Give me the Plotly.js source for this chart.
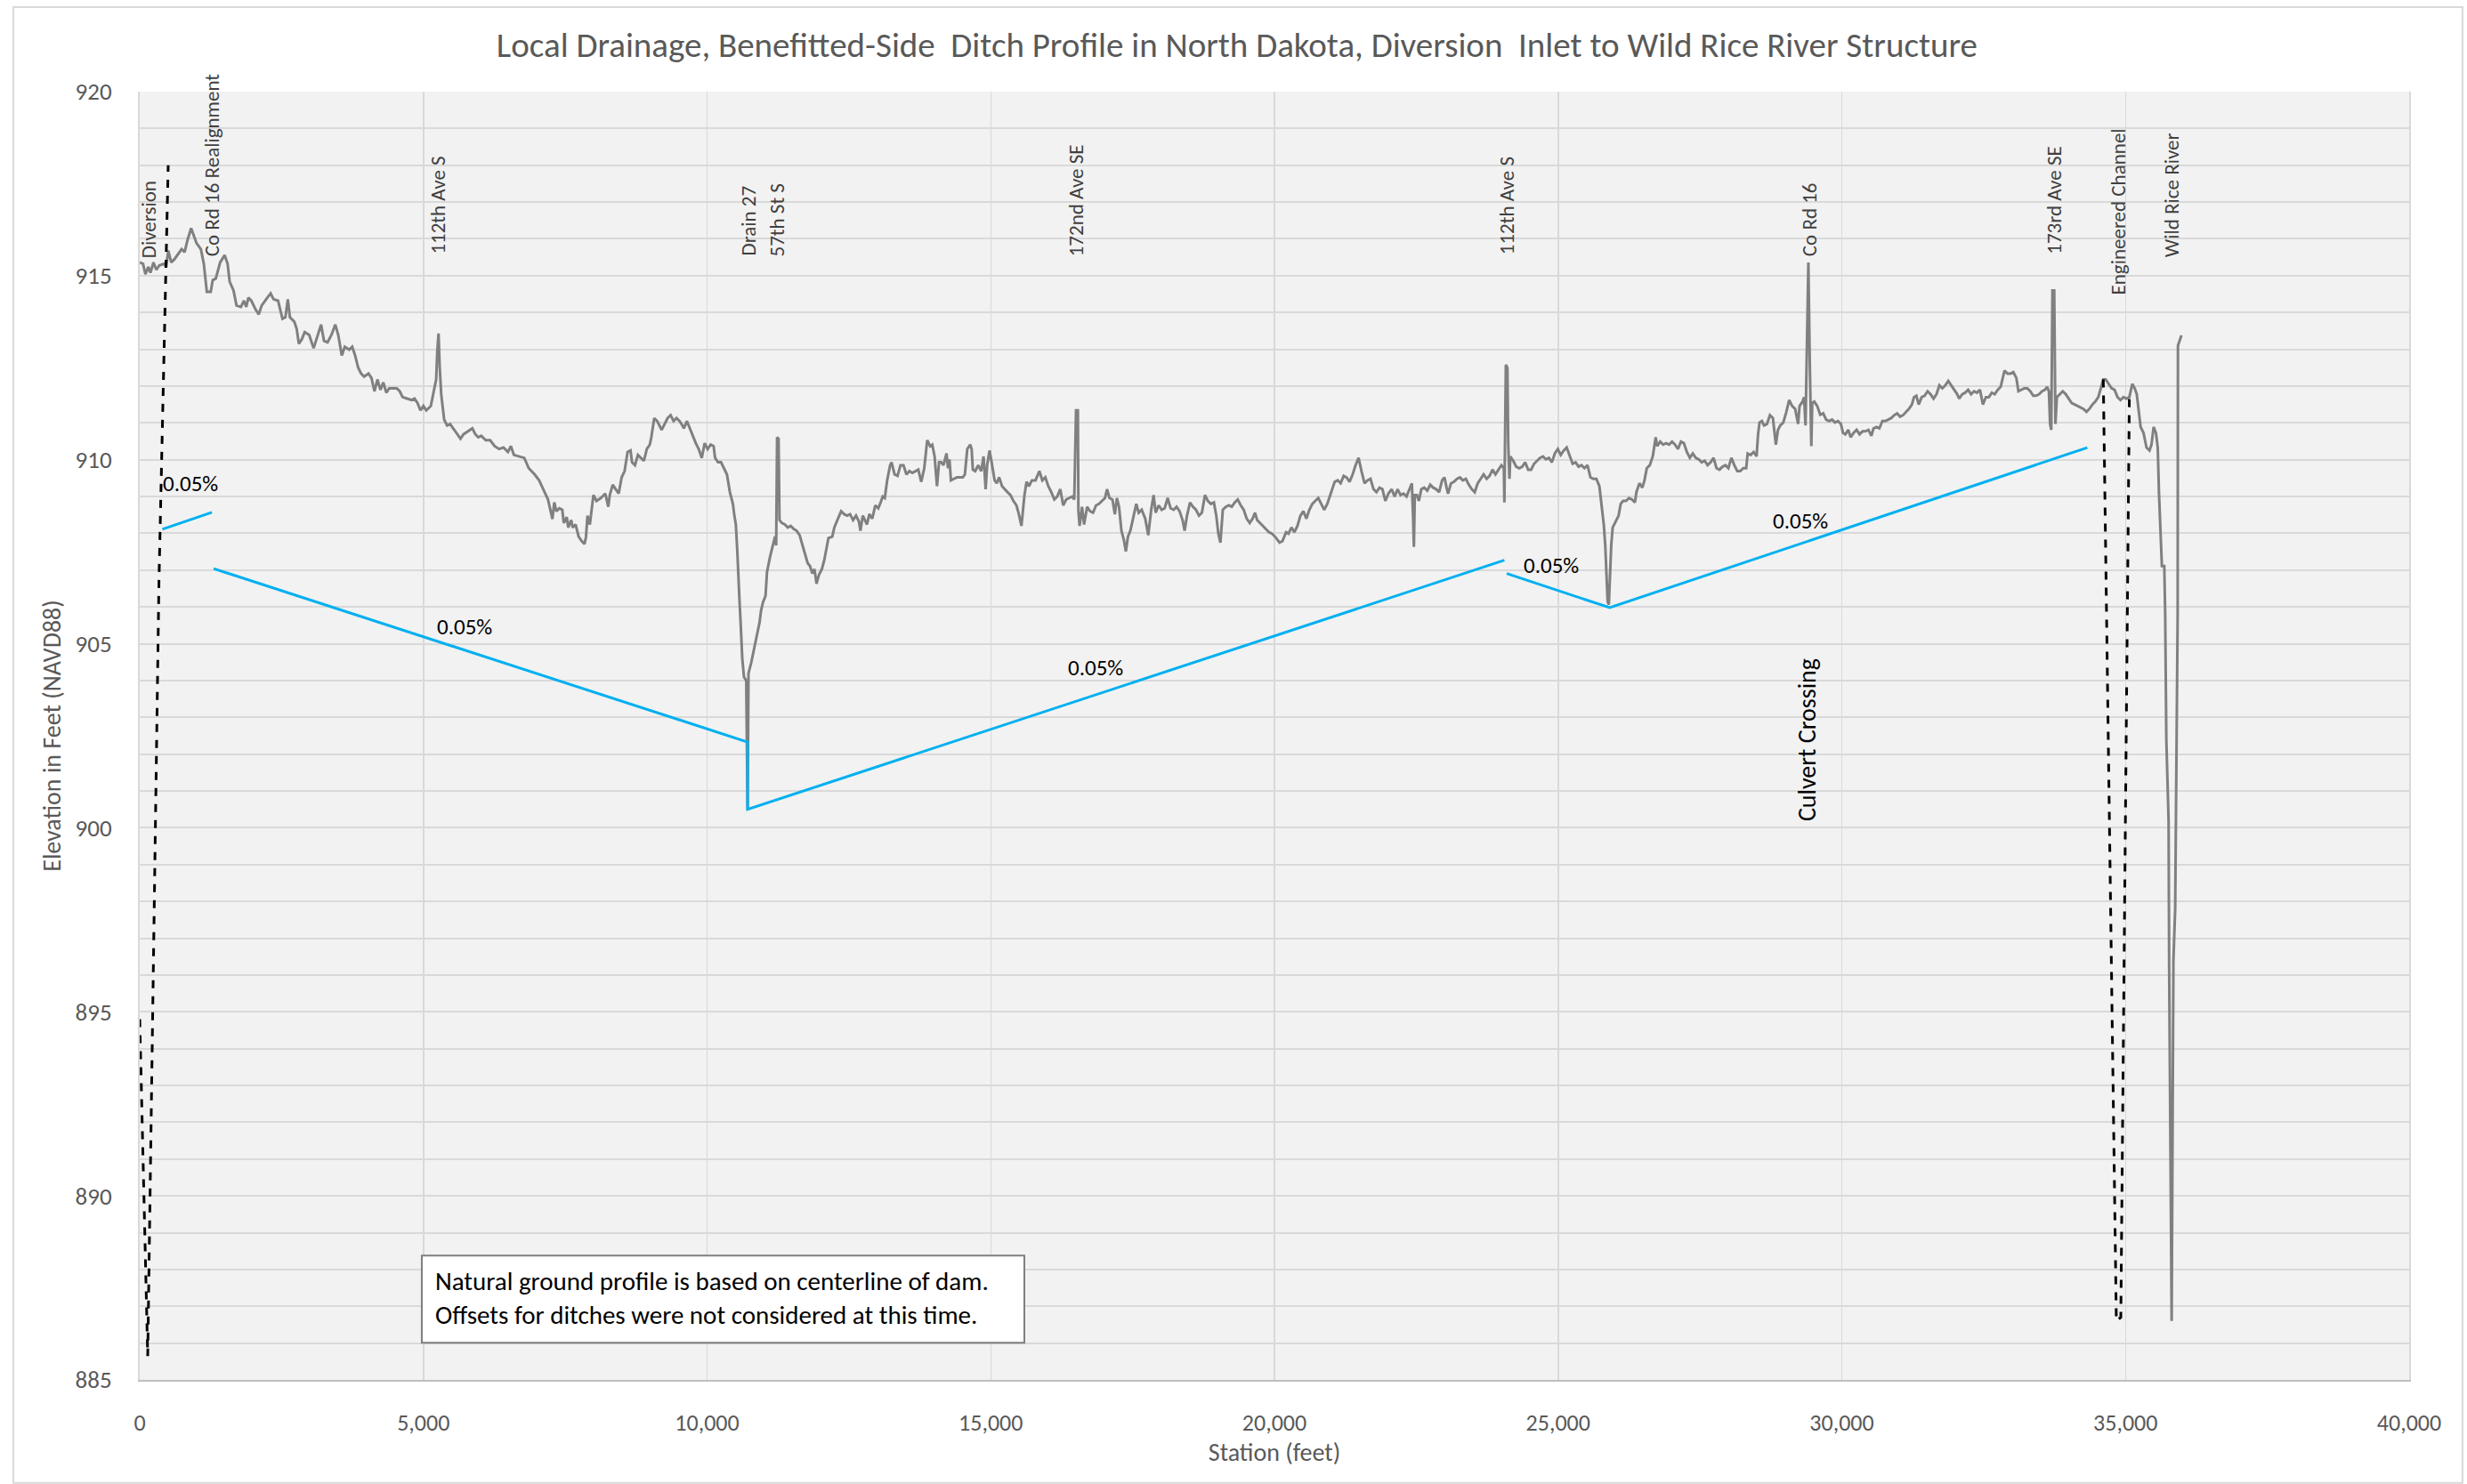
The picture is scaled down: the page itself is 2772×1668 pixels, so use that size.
<!DOCTYPE html>
<html>
<head>
<meta charset="utf-8">
<script src="https://cdn.plot.ly/plotly-3.0.1.min.js"></script>
<style>html,body{margin:0;padding:0;background:#fff;}#chart{width:2772px;height:1668px;}</style>
</head>
<body>
<div id="chart"></div>
<script>
// ---- Data ----
const chartTitle = 'Local Drainage, Benefitted-Side  Ditch Profile in North Dakota, Diversion  Inlet to Wild Rice River Structure';
const xAxisTitle = 'Station (feet)';
const yAxisTitle = 'Elevation in Feet (NAVD88)';

// Natural ground profile [station ft, elevation ft]
const groundProfile = [
[0,915.36],[59,915.32],[100,915.04],[153,915.24],[189,915.08],[242,915.36],[294,915.16],[346,915.28],[425,915.32],[466,915.24],[503,915.68],[555,915.36],[608,915.44],[660,915.56],[738,915.72],[791,915.64],[843,915.97],[906,916.29],[948,916.09],[1000,915.89],[1078,915.72],[1130,915.32],[1183,914.56],[1251,914.56],[1287,914.88],[1340,914.92],[1418,915.36],[1497,915.56],[1549,915.32],[1585,914.84],[1653,914.60],[1706,914.19],[1784,914.15],[1836,914.32],[1878,914.15],[1915,914.40],[1967,914.32],[2046,914.07],[2098,913.95],[2150,914.19],[2229,914.36],[2307,914.52],[2359,914.36],[2438,914.32],[2516,913.83],[2568,913.87],[2610,914.36],[2647,913.87],[2725,913.75],[2767,913.55],[2804,913.15],[2856,913.27],[2908,913.47],[2987,913.39],[3065,913.03],[3118,913.27],[3196,913.67],[3248,913.23],[3311,913.19],[3379,913.39],[3447,913.67],[3499,913.39],[3536,913.07],[3562,912.83],[3614,913.07],[3693,912.99],[3745,913.07],[3797,912.83],[3850,912.50],[3902,912.34],[3954,912.26],[4033,912.34],[4085,912.22],[4137,911.86],[4190,912.18],[4242,911.90],[4294,912.10],[4346,911.82],[4399,911.94],[4477,911.94],[4530,911.94],[4582,911.86],[4634,911.70],[4713,911.66],[4791,911.62],[4843,911.66],[4896,911.54],[4948,911.34],[5000,911.46],[5052,911.34],[5131,911.46],[5193,911.94],[5225,912.18],[5246,912.99],[5267,913.43],[5288,912.50],[5314,911.78],[5366,911.09],[5418,910.93],[5471,910.97],[5549,910.81],[5654,910.57],[5706,910.69],[5784,910.77],[5863,910.85],[5915,910.69],[5967,910.61],[6020,910.65],[6098,910.53],[6176,910.53],[6255,910.37],[6333,910.29],[6412,910.33],[6490,910.21],[6542,910.37],[6595,910.13],[6699,910.09],[6778,910.05],[6856,909.77],[6961,909.60],[7039,909.44],[7118,909.16],[7196,908.92],[7274,908.39],
[7307,908.84],[7344,908.60],[7396,908.68],[7448,908.64],[7474,908.28],[7527,908.44],[7553,908.16],[7605,908.36],[7631,908.16],[7683,908.24],[7736,907.91],[7788,907.79],[7840,907.71],[7866,907.91],[7892,908.48],[7934,908.24],[7971,908.80],[7997,909.04],[8050,908.88],[8128,908.96],[8206,909.08],[8259,908.72],[8285,909.04],[8337,909.32],[8389,909.20],[8442,909.08],[8494,909.52],[8546,909.69],[8599,910.21],[8651,910.25],[8677,909.93],[8729,909.85],[8781,910.13],[8834,910.05],[8886,909.97],[8938,910.29],[8991,910.41],[9017,910.61],[9069,911.13],[9121,911.05],[9200,910.81],[9252,910.97],[9304,911.13],[9357,911.21],[9409,911.05],[9461,911.13],[9514,911.05],[9566,910.93],[9592,910.85],[9644,911.05],[9697,910.85],[9749,910.61],[9801,910.45],[9853,910.29],[9906,910.05],[9958,910.45],[10010,910.29],[10063,910.41],[10115,910.37],[10141,910.05],[10193,909.93],[10246,909.93],[10298,909.77],[10350,909.60],[10402,909.12],[10455,908.80],[10481,908.48],[10507,908.24],[10533,907.51],[10544,907.03],[10570,906.22],[10591,905.58],[10620,904.60],[10650,904.10],[10690,904.00],[10714,900.50],[10730,904.20],[10780,904.50],[10850,905.00],[10925,905.58],
[10951,905.90],[10988,906.14],[11030,906.30],[11056,906.95],[11108,907.35],[11145,907.59],[11176,907.83],[11197,907.91],[11218,907.67],[11234,910.61],[11260,910.57],[11276,908.36],[11318,908.28],[11370,908.24],[11422,908.16],[11474,908.20],[11527,908.12],[11579,908.07],[11631,907.95],[11684,907.67],[11736,907.43],[11773,907.19],[11814,907.11],[11856,906.91],[11893,907.03],[11929,906.63],[11971,906.87],[12023,907.03],[12065,907.27],[12102,907.59],[12139,907.87],[12207,907.91],[12243,908.16],[12285,908.32],[12327,908.48],[12363,908.60],[12416,908.52],[12468,908.48],[12520,908.52],[12573,908.36],[12625,908.48],[12677,908.32],[12703,908.07],[12745,908.48],[12782,908.36],[12818,908.24],[12860,908.52],[12912,908.40],[12965,908.76],[13017,908.68],[13059,908.84],[13095,909.00],[13132,908.96],[13174,909.44],[13226,909.85],[13252,909.93],[13305,909.60],[13357,909.56],[13409,909.85],[13462,909.85],[13514,909.60],[13566,909.69],[13618,909.64],[13671,909.69],[13723,909.73],[13775,909.40],[13828,909.77],[13880,910.53],[13932,910.37],[13969,910.41],[14010,910.09],[14052,909.28],[14089,909.93],[14126,909.93],[14167,909.85],[14220,910.17],[14246,909.77],[14272,910.01],[14298,909.44],[14350,909.48],[14403,909.52],[14455,909.52],[14507,909.52],[14544,909.60],[14586,910.29],[14638,910.41],
[14663,910.29],[14684,909.73],[14726,909.69],[14779,909.85],[14831,909.69],[14873,910.09],[14910,909.20],[14936,909.85],[14979,910.25],[15015,909.93],[15068,909.44],[15105,909.36],[15147,909.52],[15199,909.28],[15241,909.20],[15294,909.12],[15347,909.04],[15399,908.88],[15452,908.76],[15489,908.56],[15541,908.20],[15594,909.04],[15631,909.40],[15673,909.28],[15725,909.44],[15788,909.44],[15857,909.69],[15909,909.44],[15962,909.52],[16014,909.28],[16067,909.12],[16120,908.92],[16172,909.00],[16225,909.20],[16277,908.76],[16330,908.92],[16382,908.96],[16435,909.00],[16472,908.92],[16503,911.34],[16535,911.34],[16545,908.60],[16566,908.20],[16609,908.72],[16645,908.24],[16698,908.72],[16750,908.60],[16803,908.56],[16856,908.76],[16908,908.80],[16961,908.88],[17013,908.96],[17050,909.20],[17092,908.96],[17145,908.92],[17187,908.52],[17224,908.96],[17261,908.72],[17303,908.07],[17345,907.83],[17381,907.51],[17418,907.91],[17460,908.07],[17513,908.48],[17565,908.80],[17608,908.56],[17660,908.64],[17723,908.40],[17776,907.95],[17828,908.64],[17870,909.04],[17907,908.56],[17960,908.76],[18013,908.64],[18065,908.68],[18118,908.96],[18170,908.68],[18223,908.64],[18275,908.72],[18328,908.60],[18381,908.36],[18417,908.07],[18459,908.48],[18512,908.84],[18564,908.72],[18617,908.64],[18670,908.48],[18722,908.56],[18775,909.04],[18827,908.88],[18880,908.80],[18933,908.84],[18975,908.48],[19012,907.99],[19048,907.75],[19090,908.64],[19143,908.72],[19196,908.76],[19248,908.72],[19301,908.84],[19353,908.92],[19406,908.76],[19458,908.64],[19511,908.40],[19564,908.28],[19616,908.40],[19658,908.56],[19695,908.36],[19748,908.28],[19800,908.20],[19853,908.12],[19905,908.03],[19958,907.99],[20011,907.91],[20090,907.75],[20142,907.79],[20205,908.03],[20247,907.99],[20300,908.16],[20352,908.03],[20405,908.20],[20458,908.48],[20510,908.60],[20563,908.40],[20615,908.64],[20668,908.80],[20720,908.88],[20773,908.96],[20825,908.80],[20878,908.64],[20931,908.80],[20983,909.04],[21025,909.28],[21062,909.40],[21115,909.44],[21167,909.36],[21220,909.56],[21272,909.52],[21325,909.40],[21378,909.60],[21430,909.85],[21483,910.05],[21535,909.69],[21588,909.36],[21640,909.44],[21693,909.48],[21746,909.20],[21798,909.12],[21851,909.24],[21903,909.20],[21956,908.88],[22008,909.08],
[22066,909.20],[22119,909.00],[22171,909.20],[22223,909.04],[22275,909.08],[22328,909.00],[22380,909.20],[22422,909.36],[22443,908.48],[22458,907.63],[22474,909.04],[22511,909.04],[22547,908.88],[22589,909.20],[22641,909.24],[22694,909.16],[22746,909.32],[22798,909.24],[22850,909.20],[22903,909.12],[22955,909.44],[22997,909.52],[23034,909.24],[23060,909.08],[23112,909.36],[23164,909.40],[23217,909.48],[23269,909.52],[23321,909.44],[23374,909.48],[23426,909.32],[23478,909.20],[23530,909.12],[23583,909.36],[23635,909.48],[23687,909.60],[23740,909.48],[23792,909.56],[23844,909.73],[23896,909.60],[23949,909.73],[24001,909.85],[24043,909.77],[24053,908.84],[24079,912.58],[24106,912.50],[24121,910.41],[24142,909.48],[24158,910.09],[24210,909.97],[24262,909.81],[24315,909.77],[24367,909.81],[24419,909.93],[24472,909.73],[24524,909.73],[24576,909.89],[24629,909.97],[24681,910.05],[24733,910.09],[24785,910.01],[24838,910.05],[24890,909.93],[24942,910.17],[24995,910.29],[25047,910.13],[25099,910.25],[25151,910.33],[25204,910.09],[25256,909.89],[25308,909.93],[25361,909.81],[25413,909.85],[25465,909.77],[25517,909.85],[25570,909.52],[25622,909.48],[25674,909.48],[25727,909.28],[25768,908.80],[25805,908.24],[25831,907.67],[25857,906.87],[25873,906.14],[25894,906.06],[25910,906.87],[25936,907.67],[25962,908.16],[26014,908.32],[26066,908.48],[26103,908.80],[26145,908.88],[26197,908.88],[26250,908.96],[26302,908.92],[26354,908.84],[26380,909.12],[26433,909.36],[26485,909.24],[26522,909.44],[26563,909.77],[26616,909.85],[26668,910.09],[26694,910.41],[26720,910.61],[26746,910.37],[26799,910.49],[26851,910.41],[26903,910.45],[26956,910.41],[27008,910.49],[27060,910.41],[27112,910.29],[27165,910.49],[27217,910.45],[27269,910.21],[27322,910.05],[27374,910.17],[27426,910.05],[27478,910.01],[27531,909.93],[27583,909.97],[27635,909.85],[27688,909.93],[27740,910.05],[27792,909.77],[27844,909.73],[27897,909.81],[27949,909.85],[28001,909.77],[28054,910.05],[28106,909.85],[28158,909.69],[28210,909.69],[28263,909.77],[28315,909.77],[28341,910.17],[28394,910.13],[28446,910.21],[28498,910.09],[28524,910.69],[28550,911.01],[28592,911.05],[28629,910.93],[28681,910.97],[28733,911.21],[28786,911.13],[28838,910.41],[28875,910.81],[28916,910.93],[28969,911.01],[29021,911.29],[29073,911.62],[29125,911.46],[29178,911.38],[29230,910.97],[29256,911.46],[29308,911.58],[29335,911.70],[29361,910.93],
[29411,915.36],[29437,912.50],[29463,910.37],[29479,911.54],[29515,911.58],[29567,911.46],[29620,911.22],[29672,911.26],[29724,911.09],[29776,911.05],[29828,911.09],[29880,911.01],[29932,911.05],[29985,910.97],[30021,910.73],[30063,910.69],[30115,910.81],[30157,910.61],[30209,910.73],[30261,910.81],[30313,910.69],[30365,910.77],[30417,910.77],[30470,910.81],[30522,910.65],[30558,910.85],[30610,910.89],[30662,910.85],[30715,911.05],[30767,911.05],[30819,911.09],[30871,911.13],[30923,911.21],[30975,911.26],[31027,911.17],[31080,911.21],[31132,911.30],[31184,911.38],[31236,911.50],[31272,911.70],[31314,911.74],[31356,911.50],[31408,911.70],[31460,911.74],[31512,911.86],[31564,911.78],[31617,911.66],[31669,911.78],[31721,912.02],[31773,911.94],[31825,912.02],[31877,912.14],[31929,912.02],[31982,911.90],[32034,911.78],[32070,911.66],[32122,911.78],[32174,911.82],[32227,911.90],[32279,911.78],[32331,911.86],[32383,911.82],[32435,911.90],[32487,911.50],[32540,911.70],[32592,911.70],[32644,911.82],[32696,911.78],[32748,911.90],[32800,911.98],[32837,912.26],[32868,912.42],[32920,912.34],[32972,912.34],[33024,912.38],[33077,912.22],[33113,911.86],[33165,911.90],[33217,911.94],[33269,911.94],[33322,911.86],[33374,911.74],[33426,911.74],[33478,911.78],[33530,911.86],[33582,911.90],[33619,911.98],[33650,911.86],[33671,910.97],[33692,910.81],[33713,914.60],[33744,914.60],[33765,910.97],[33791,911.70],[33843,911.78],[33895,911.86],[33947,911.78],[33999,911.66],[34052,911.54],[34104,911.50],[34156,911.46],[34208,911.42],[34260,911.38],[34312,911.30],[34364,911.38],[34417,911.50],[34469,911.58],[34521,911.70],[34573,912.02],[34609,912.18],[34651,912.18],[34703,912.06],[34755,911.94],[34807,911.90],[34860,911.70],[34912,911.62],[34964,911.70],[35016,911.66],[35068,911.70],[35120,912.06],[35162,911.94],[35199,911.78],[35225,911.46],[35267,910.89],[35318,910.73],[35371,910.33],[35423,910.25],[35459,910.41],[35496,910.89],[35537,910.73],[35569,910.33],[35590,909.12],[35642,907.11],[35684,907.11],[35700,905.80],[35720,902.40],[35760,900.20],[35770,896.20],[35814,886.60],[35845,896.40],[35876,897.80],[35892,900.80],[35920,905.80],[35925,913.10],[35986,913.38]
];

// Proposed ditch grade segments (null = break between segments)
const ditchStation = [399, 1272, null, 1303, 10714, 10714, 24053, null, 24095, 25910, 34328];
const ditchElev    = [908.11, 908.57, null, 907.04, 902.33, 900.50, 907.27, null, 906.91, 905.98, 910.33];

// Dashed tie-in lines (black)
const tieStation = [0, 141, 339, 502, null, 34609, 34839, 34918, 35068];
const tieElev    = [894.8, 885.65, 906.7, 918.0, null, 912.18, 886.6, 886.7, 911.66];

// Crossing labels: name, station, bottom elevation
const crossingNames = ['Diversion','Co Rd 16 Realignment','112th Ave S','Drain 27','57th St S','172nd Ave SE','112th Ave S','Co Rd 16','173rd Ave SE','Engineered Channel','Wild Rice River'];
const crossingStation = [152, 1275, 5250, 10714, 11239, 16507, 24099, 29422, 33746, 34870, 35812];
const crossingLabelBase = [915.43, 915.48, 915.53, 915.48, 915.48, 915.48, 915.53, 915.48, 915.53, 914.44, 915.45];

// Grade labels
const gradeText = ['0.05%','0.05%','0.05%','0.05%','0.05%'];
const gradeStation = [894, 5725, 16847, 24878, 29270];
const gradeElev = [909.36, 905.47, 904.34, 907.12, 908.33];

const noteLines = ['Natural ground profile is based on centerline of dam.', 'Offsets for ditches were not considered at this time.'];

// ---- Build chart ----
const FONT = 'Liberation Sans Narrow, Carlito, Liberation Sans, Arial, sans-serif';

const traces = [
  {x: groundProfile.map(p => p[0]), y: groundProfile.map(p => p[1]), type:'scatter', mode:'lines',
   line:{color:'#808080', width:3}, hoverinfo:'skip', showlegend:false},
  {x: ditchStation, y: ditchElev, type:'scatter', mode:'lines', connectgaps:false,
   line:{color:'#00B0F0', width:3}, hoverinfo:'skip', showlegend:false},
  {x: tieStation, y: tieElev, type:'scatter', mode:'lines', connectgaps:false,
   line:{color:'#000000', width:3, dash:'dash'}, hoverinfo:'skip', showlegend:false}
];

const annotations = [];
crossingNames.forEach((name, i) => {
  annotations.push({x: crossingStation[i], y: crossingLabelBase[i], xref:'x', yref:'y', text: name,
    textangle:-90, showarrow:false, xanchor:'center', yanchor:'bottom',
    font:{family:FONT, size:23, color:'#404040'}});
});
gradeText.forEach((t, i) => {
  annotations.push({x: gradeStation[i], y: gradeElev[i], xref:'x', yref:'y', text: t, showarrow:false,
    xanchor:'center', yanchor:'middle', font:{family:FONT, size:25, color:'#000000'}});
});
annotations.push({x: 29380, y: 902.40, xref:'x', yref:'y', text:'Culvert Crossing', textangle:-90, showarrow:false,
  xanchor:'center', yanchor:'middle', font:{family:FONT, size:28, color:'#000000'}});
annotations.push({x: 5180, y: 887.22, xref:'x', yref:'y', text: noteLines.join('<br>'), align:'left', showarrow:false,
  xanchor:'left', yanchor:'middle', font:{family:FONT, size:29, color:'#000000'}});

const layout = {
  width:2772, height:1668,
  margin:{l:157, r:65, t:103, b:117, pad:0},
  paper_bgcolor:'#FFFFFF', plot_bgcolor:'#F2F2F2',
  font:{family:FONT, color:'#595959'},
  showlegend:false,
  title:{text: chartTitle, font:{family:FONT, size:39, color:'#595959'},
         xref:'paper', x:0.4835, xanchor:'center', yref:'container', y:1-50/1668, yanchor:'middle'},
  xaxis:{range:[0,40000], tick0:0, dtick:5000, tickformat:',d', showgrid:true, gridcolor:'#D9D9D9', gridwidth:1.5,
         zeroline:false, showline:true, linecolor:'#BFBFBF', linewidth:2, ticks:'', ticklabelstandoff:24,
         tickfont:{family:FONT, size:26, color:'#595959'},
         title:{text:xAxisTitle, font:{family:FONT, size:28, color:'#595959'}, standoff:8}},
  yaxis:{range:[885,920], tick0:885, dtick:5, showgrid:true, gridcolor:'#D9D9D9', gridwidth:2,
         minor:{dtick:1, showgrid:true, gridcolor:'#D9D9D9', gridwidth:2},
         zeroline:false, showline:true, linecolor:'#D9D9D9', linewidth:2, mirror:true, ticks:'', ticklabelstandoff:24,
         tickfont:{family:FONT, size:27, color:'#595959'},
         title:{text:yAxisTitle, font:{family:FONT, size:28, color:'#595959'}, standoff:8}},
  shapes:[
    {type:'rect', xref:'paper', yref:'paper', x0:-0.0557, x1:1.0235, y0:-0.08, y1:1.0656,
     line:{color:'#D9D9D9', width:2}, fillcolor:'rgba(0,0,0,0)', layer:'below'},
    {type:'rect', xref:'x', yref:'y', x0:4972, x1:15592, y0:886.01, y1:888.38,
     line:{color:'#7F7F7F', width:2}, fillcolor:'#FFFFFF', layer:'above'}
  ],
  annotations: annotations
};

Plotly.newPlot('chart', traces, layout, {staticPlot:true, displayModeBar:false});
</script>
</body>
</html>
